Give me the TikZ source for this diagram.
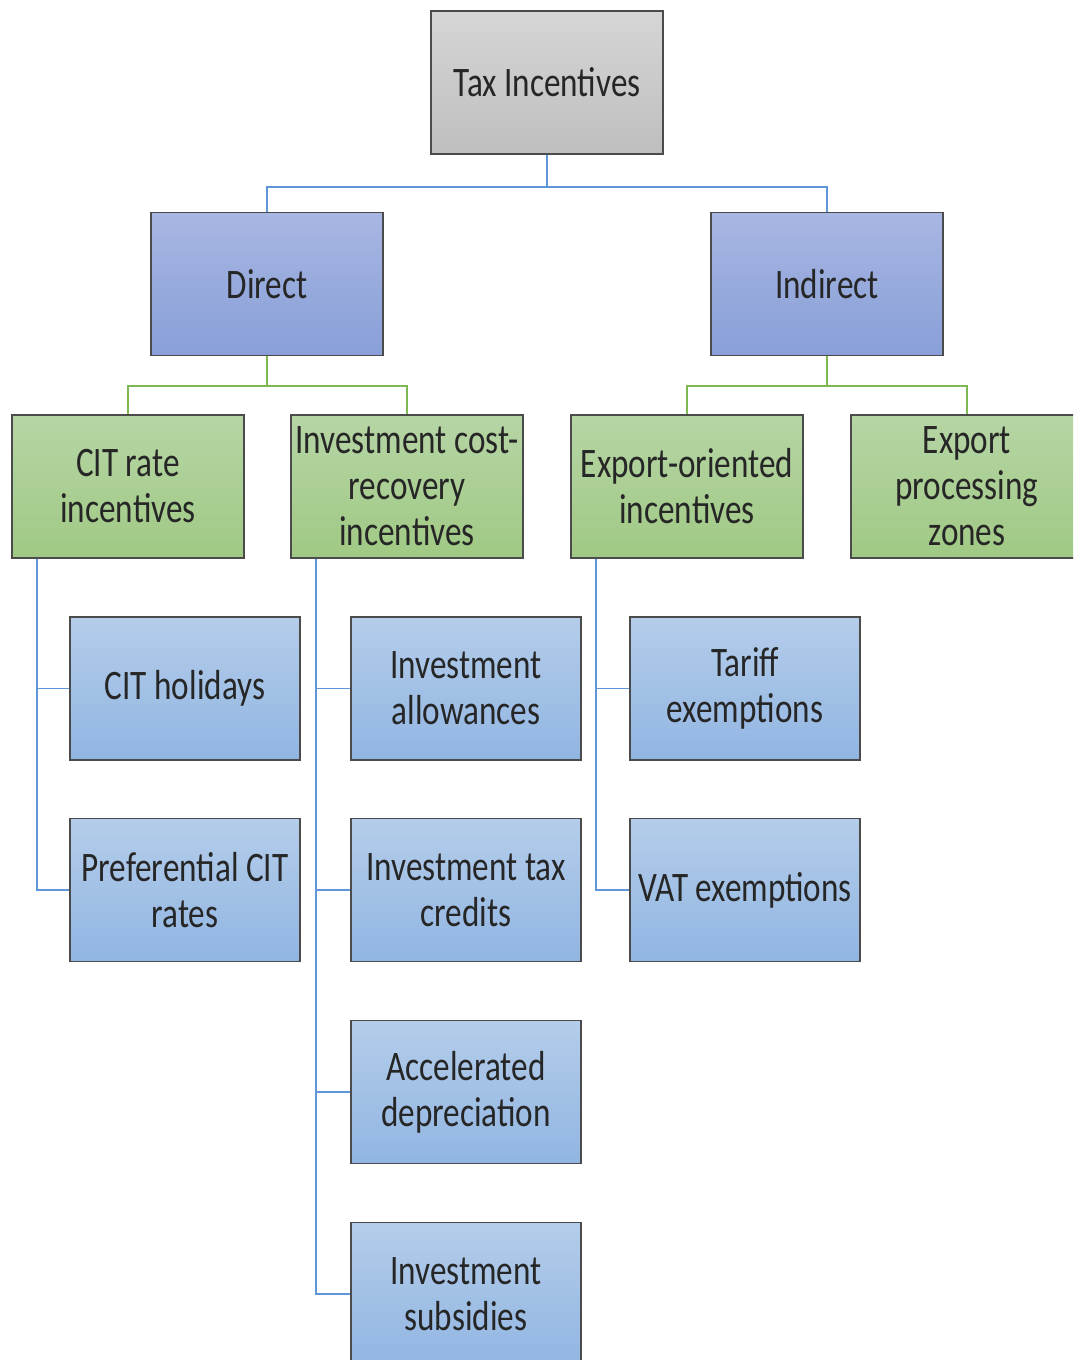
\documentclass[tikz,border=0pt]{standalone}
\usepackage{fontspec}
\setmainfont{Carlito}[FakeStretch=0.79]
\definecolor{boxedge}{RGB}{75,75,75}
\definecolor{linkblue}{RGB}{95,150,215}
\definecolor{linkgreen}{RGB}{125,185,80}
\definecolor{grayhi}{RGB}{214,214,214}
\definecolor{graylo}{RGB}{190,190,190}
\definecolor{purphi}{RGB}{168,182,226}
\definecolor{purplo}{RGB}{136,159,216}
\definecolor{greenhi}{RGB}{182,213,165}
\definecolor{greenlo}{RGB}{160,201,132}
\definecolor{bluehi}{RGB}{180,205,234}
\definecolor{bluelo}{RGB}{145,181,226}
\tikzset{
  box/.style={draw=boxedge, line width=0.8pt, minimum width=4.64cm, minimum height=2.86cm,
    align=center, inner sep=1pt, text=black!85, font=\fontsize{23.9}{26.2}\selectfont},
  rootbox/.style={box, top color=grayhi, bottom color=graylo},
  kindbox/.style={box, top color=purphi, bottom color=purplo},
  groupbox/.style={box, top color=greenhi, bottom color=greenlo},
  itembox/.style={box, minimum width=4.6cm, top color=bluehi, bottom color=bluelo},
  bluelink/.style={draw=linkblue, line width=1.1pt},
  greenlink/.style={draw=linkgreen, line width=1.1pt}
}
\begin{document}
\begin{tikzpicture}[x=0.02cm, y=-0.02cm]
    \useasboundingbox (0,0) rectangle (1073,1360);
    \clip (0,0) rectangle (1073,1360);
    %% top levels
    \node[rootbox] (tax) at (547,82.5) {Tax Incentives};
    \node[kindbox] (direct) at (267,284) {Direct};
    \node[kindbox] (indirect) at (827,284) {Indirect};
    %% groups
    \node[groupbox] (citrate) at (128,486.5) {CIT rate\\incentives};
    \node[groupbox] (invcost) at (407,486.5) {Investment cost-\\recovery\\incentives};
    \node[groupbox] (exporient) at (687,486.5) {Export-oriented\\incentives};
    \node[groupbox] (epz) at (967,486.5) {Export\\processing\\zones};
    %% items
    \node[itembox] (cithol) at (185,688.5) {CIT holidays};
    \node[itembox] (prefcit) at (185,890) {Preferential CIT\\rates};
    \node[itembox] (invallow) at (466,688.5) {Investment\\allowances};
    \node[itembox] (invtax) at (466,890) {Investment tax\\credits};
    \node[itembox] (accdep) at (466,1092) {Accelerated\\depreciation};
    \node[itembox] (invsub) at (466,1294) {Investment\\subsidies};
    \node[itembox] (tariff) at (745,688.5) {Tariff\\exemptions};
    \node[itembox] (vat) at (745,890) {VAT exemptions};
    %% links
    \draw[bluelink] (tax.south) -- ++(0,32) -| (direct.north);
    \draw[bluelink] (tax.south) -- ++(0,32) -| (indirect.north);
    \draw[greenlink] (direct.south) -- ++(0,30) -| (citrate.north);
    \draw[greenlink] (direct.south) -- ++(0,30) -| (invcost.north);
    \draw[greenlink] (indirect.south) -- ++(0,30) -| (exporient.north);
    \draw[greenlink] (indirect.south) -- ++(0,30) -| (epz.north);
    \foreach \to in {cithol,prefcit}
      \draw[bluelink] ([xshift=0.52cm]citrate.south west) |- (\to.west);
    \foreach \to in {invallow,invtax,accdep,invsub}
      \draw[bluelink] ([xshift=0.52cm]invcost.south west) |- (\to.west);
    \foreach \to in {tariff,vat}
      \draw[bluelink] ([xshift=0.52cm]exporient.south west) |- (\to.west);
\end{tikzpicture}
\end{document}
